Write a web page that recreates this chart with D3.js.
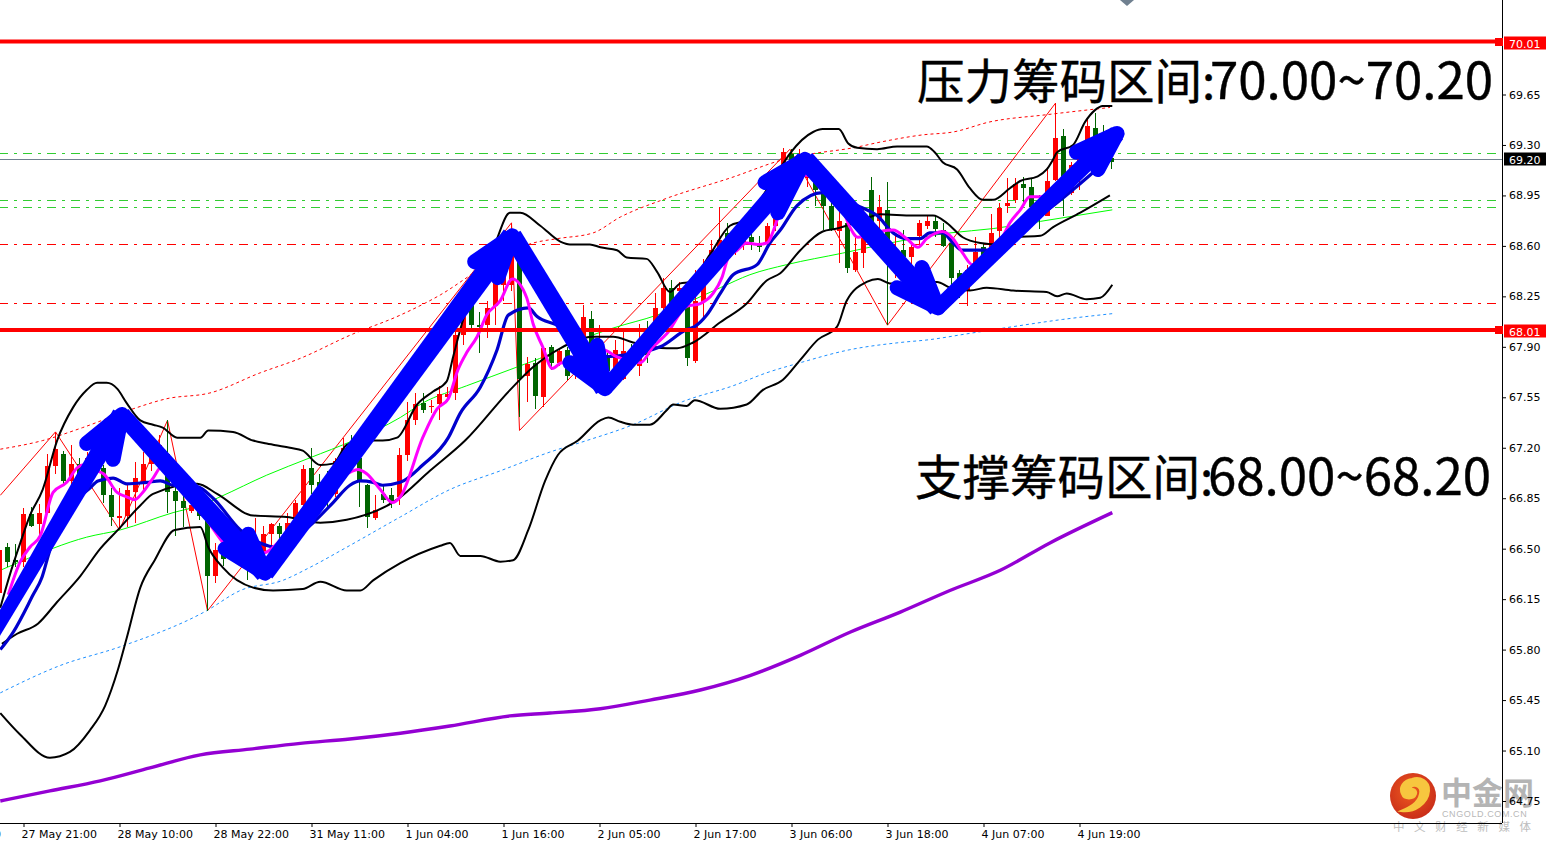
<!DOCTYPE html>
<html><head><meta charset="utf-8">
<script src="https://cdn.jsdelivr.net/npm/d3@7/dist/d3.min.js"></script>
<style>html,body{margin:0;padding:0;background:#fff;overflow:hidden}svg{display:block}</style>
</head><body><svg id="c" width="1547" height="845"></svg>
<script>
const opens=[66.19,66.51,66.42,66.41,66.74,66.67,66.75,67.07,67.16,66.97,67.09,67.04,67.11,67.06,66.87,66.71,66.73,66.89,66.96,67.09,
67.16,67.16,66.90,66.83,66.76,66.79,66.70,66.31,66.50,66.47,66.56,66.56,66.43,66.47,66.60,66.66,66.61,66.70,66.80,67.06,
66.96,66.97,66.88,67.11,67.22,67.13,66.94,66.71,66.88,66.87,66.86,67.15,67.39,67.51,67.48,67.50,67.55,67.58,67.98,68.24,
68.05,68.05,68.18,68.33,68.33,68.52,67.70,67.79,67.55,67.90,67.79,67.88,67.77,67.79,68.09,67.81,67.84,67.75,67.68,67.88,
67.77,67.98,67.95,68.17,68.31,68.29,68.32,67.80,68.21,68.45,68.57,68.69,68.61,68.62,68.66,68.62,68.61,68.74,69.14,69.24,
69.13,69.07,69.10,69.02,68.88,68.70,68.76,68.43,68.55,68.99,68.77,68.85,68.48,68.57,68.52,68.67,68.74,68.77,68.71,68.62,
68.41,68.29,68.47,68.59,68.59,68.70,68.88,68.92,69.03,69.01,68.88,68.81,69.06,69.36,68.97,69.08,69.24,69.42,69.37,69.21];
const closes=[66.49,66.41,66.41,66.74,66.66,66.75,67.07,67.19,66.97,67.09,67.02,67.13,67.06,66.87,66.72,66.73,66.91,66.99,67.09,67.16,
67.22,66.89,66.83,66.78,66.80,66.73,66.31,66.49,66.43,66.57,66.47,66.45,66.56,66.60,66.67,66.60,66.68,66.82,67.05,66.94,
66.93,66.91,67.11,67.20,67.15,66.96,66.72,66.77,66.84,66.82,67.15,67.39,67.50,67.46,67.49,67.57,67.57,67.98,68.15,68.05,
68.04,68.17,68.34,68.47,68.55,67.68,67.78,67.56,67.89,67.79,67.87,67.70,67.91,68.11,67.89,67.95,67.73,67.88,67.87,67.79,
67.95,67.84,68.17,68.31,68.19,68.31,67.82,68.22,68.45,68.57,68.64,68.57,68.65,68.65,68.63,68.59,68.74,68.90,69.25,69.16,
69.23,69.14,68.99,68.88,68.71,68.77,68.45,68.56,68.72,68.72,68.87,68.48,68.58,68.52,68.59,68.76,68.77,68.72,68.60,68.38,
68.31,68.43,68.56,68.50,68.69,68.86,68.90,69.03,69.00,68.87,68.79,69.05,69.35,69.06,69.16,69.22,69.43,69.27,69.16,69.18];
const highs=[66.52,66.54,66.53,66.78,66.79,66.81,67.16,67.31,67.18,67.22,67.13,67.17,67.15,67.08,66.92,66.92,66.95,67.10,67.17,67.24,
67.29,67.39,66.95,66.89,66.86,66.92,66.77,66.54,66.56,66.63,66.61,66.63,66.71,66.66,66.68,66.68,66.75,66.84,67.08,67.20,
67.02,67.04,67.13,67.27,67.29,67.15,66.95,66.87,66.95,66.92,67.20,67.52,67.58,67.58,67.53,67.63,67.62,68.02,68.26,68.33,
68.14,68.22,68.43,68.54,68.76,68.57,67.83,67.82,67.90,67.91,67.89,67.90,67.95,68.19,68.15,68.05,67.86,67.95,68.00,67.92,
68.06,68.08,68.27,68.38,68.36,68.35,68.33,68.43,68.51,68.64,68.87,68.76,68.67,68.71,68.71,68.67,68.76,68.95,69.28,69.27,
69.27,69.16,69.16,69.09,68.94,68.87,68.78,68.66,68.85,69.08,68.95,69.04,68.67,68.71,68.62,68.78,68.81,68.81,68.76,68.67,
68.43,68.47,68.66,68.62,68.82,68.90,69.07,69.07,69.08,69.07,68.95,69.15,69.59,69.41,69.18,69.26,69.49,69.52,69.44,69.24];
const lows=[66.14,66.37,66.37,66.37,66.65,66.59,66.74,67.02,66.95,66.91,66.99,66.98,67.01,66.82,66.66,66.65,66.65,66.68,66.89,67.04,
67.10,66.75,66.59,66.65,66.75,66.70,66.07,66.26,66.38,66.42,66.43,66.28,66.38,66.45,66.52,66.56,66.57,66.66,66.79,66.88,
66.82,66.79,66.86,67.04,67.04,66.79,66.64,66.70,66.82,66.78,66.80,67.11,67.36,67.44,67.44,67.39,67.52,67.53,67.91,68.00,
67.86,67.96,68.05,68.22,68.29,67.41,67.52,67.47,67.48,67.74,67.77,67.67,67.68,67.74,67.84,67.74,67.70,67.68,67.67,67.74,
67.70,67.79,67.88,68.15,68.13,68.20,67.77,67.79,68.09,68.40,68.49,68.50,68.54,68.57,68.57,68.56,68.59,68.70,69.05,69.07,
69.02,69.01,68.88,68.71,68.70,68.48,68.41,68.42,68.45,68.71,68.70,68.05,68.38,68.33,68.47,68.59,68.72,68.66,68.59,68.31,
68.24,68.18,68.45,68.47,68.57,68.65,68.83,68.90,68.90,68.81,68.72,68.81,69.05,68.81,68.95,68.99,69.20,69.24,69.11,69.13];

const bandUpper=[[0.1,66.09],[1.3,66.32],[2.6,66.54],[3.8,66.73],[5.4,66.91],[7.2,67.25],[9.2,67.48],[10.9,67.60],[12.2,67.65],[13.4,67.65],[14.7,67.61],[15.9,67.51],[17.6,67.39],[19.2,67.36],[20.4,67.34],[22.2,67.27],[25.1,67.27],[26.1,67.32],[29.2,67.31],[31.7,67.25],[33.4,67.23],[36.3,67.20],[37.9,67.18],[40.1,67.08],[41.7,67.09],[43.4,67.22],[45.4,67.25],[47.9,67.25],[49.7,67.27],[52.2,67.50],[54.2,67.59],[55.9,67.66],[56.7,67.83],[57.8,68.06],[59.7,68.36],[61.9,68.61],[63.8,68.83],[65.1,68.83],[67.6,68.74],[70.1,68.63],[71.3,68.61],[73.8,68.61],[75.1,68.59],[77.2,68.57],[78.4,68.52],[80.9,68.51],[82.2,68.42],[83.8,68.28],[85.1,68.34],[86.3,68.35],[88.8,68.54],[91.3,68.74],[93.4,68.78],[95.1,68.92],[97.6,69.14],[98.8,69.24],[101.7,69.39],[102.9,69.41],[104.9,69.41],[106.1,69.31],[107.2,69.28],[109.7,69.27],[112.2,69.29],[115.9,69.29],[116.9,69.25],[117.9,69.18],[119.7,69.13],[121.3,69.00],[122.9,68.92],[124.2,68.92],[126.3,69.00],[127.6,69.05],[129.7,69.08],[130.9,69.13],[131.7,69.20],[132.2,69.25],[134.2,69.30],[135.7,69.46],[136.9,69.54],[137.9,69.57],[139.1,69.57]];
const bandMid=[[0.3,65.84],[2.2,65.91],[4.8,65.98],[7.2,66.13],[10.1,66.31],[12.6,66.50],[14.8,66.63],[17.6,66.80],[19.2,66.88],[24.7,66.95],[27.2,66.88],[31.7,66.73],[35.9,66.72],[40.1,66.68],[43.4,66.70],[49.7,66.84],[53.8,67.04],[58.2,67.25],[63.8,67.60],[66.7,67.76],[70.1,67.89],[74.2,67.97],[76.7,67.97],[79.2,67.93],[83.4,67.89],[84.7,67.89],[86.7,67.93],[90.1,68.07],[93.4,68.20],[95.9,68.36],[97.6,68.41],[100.1,68.57],[102.9,68.70],[104.7,68.72],[107.9,68.78],[110.1,68.82],[114.2,68.81],[116.7,68.81],[118.4,68.76],[120.4,68.66],[122.6,68.62],[124.7,68.61],[126.7,68.66],[130.1,68.67],[131.7,68.73],[135.1,68.83],[138.8,68.95]];
const bandLower=[[0.1,65.36],[2.6,65.21],[6.3,65.05],[8.8,65.09],[11.3,65.24],[13.2,65.41],[14.8,65.66],[15.9,65.88],[17.6,66.23],[19.4,66.42],[21.9,66.63],[25.1,66.65],[26.1,66.51],[27.9,66.37],[31.7,66.23],[34.2,66.21],[37.9,66.22],[40.1,66.27],[43.4,66.21],[45.1,66.21],[46.7,66.28],[50.1,66.40],[55.1,66.52],[56.3,66.54],[57.6,66.45],[60.1,66.45],[62.6,66.41],[64.2,66.42],[66.1,66.63],[68.2,66.97],[69.8,67.15],[72.3,67.25],[75.1,67.39],[76.1,67.41],[77.6,67.38],[79.2,67.36],[81.3,67.36],[83.4,67.46],[84.2,67.50],[85.9,67.49],[86.9,67.53],[90.1,67.47],[93.4,67.50],[95.4,67.60],[97.9,67.67],[100.1,67.81],[102.3,67.95],[104.7,68.04],[105.9,68.22],[108.4,68.35],[109.8,68.37],[111.3,68.34],[117.2,68.35],[118.8,68.31],[121.3,68.29],[123.4,68.31],[126.7,68.29],[130.9,68.28],[132.2,68.25],[133.4,68.27],[135.9,68.23],[137.6,68.24],[139.1,68.33]];
const maFast=[[1.1,66.18],[2.6,66.41],[3.8,66.51],[5.1,66.59],[6.7,66.89],[8.4,66.96],[9.7,67.06],[10.4,67.08],[12.2,67.04],[13,67.02],[14.7,66.89],[15.9,66.86],[16.9,66.84],[17.9,66.89],[19.2,66.99],[20.3,67.07],[22.6,66.97],[25.9,66.70],[29.2,66.49],[32.9,66.47],[35.1,66.56],[36.7,66.68],[37.6,66.75],[41.7,66.97],[43.8,67.03],[44.8,67.05],[45.9,67.02],[47.6,66.91],[49.1,66.82],[50.1,66.86],[52.9,67.27],[54.7,67.47],[56.1,67.54],[57.3,67.74],[58.4,67.86],[59.7,67.97],[60.9,68.12],[62.6,68.22],[64.1,68.37],[65.9,68.24],[66.7,68.06],[67.9,67.90],[69.1,67.75],[70.3,67.79],[72.2,67.74],[75.4,67.88],[77.2,67.83],[80.1,67.79],[81.7,67.90],[83.4,67.99],[85.9,68.18],[87.6,68.20],[89.2,68.27],[90.3,68.38],[91.1,68.52],[92.2,68.57],[93.4,68.62],[94.8,68.61],[95.9,68.62],[97.2,68.78],[98.8,69.09],[101.3,69.09],[103.2,68.99],[105.3,68.87],[106.3,68.73],[107.3,68.66],[108.2,68.67],[110.1,68.70],[111.7,68.71],[113.4,68.65],[114.8,68.59],[115.9,68.65],[117.9,68.70],[119.2,68.65],[120.4,68.55],[121.6,68.47],[122.6,68.50],[125.1,68.63],[126.3,68.76],[127.6,68.85],[128.8,68.94],[130.4,68.94],[132.2,69.02],[134.4,69.13],[136.3,69.26],[139.1,69.33]];
const maBlue=[[0.1,65.80],[1.7,65.92],[4.2,66.18],[5.3,66.30],[6.3,66.49],[8.2,66.70],[10.1,66.86],[11.3,66.92],[12.3,66.97],[14.2,66.99],[15.9,66.95],[18.4,66.96],[20.1,66.97],[21.7,66.94],[24.7,66.93],[26.7,66.85],[30.1,66.63],[32.6,66.54],[34.7,66.51],[39.2,66.68],[41.7,66.82],[43.8,66.94],[45.1,66.97],[46.7,66.96],[47.9,66.94],[50.1,66.96],[52.9,67.08],[56.1,67.27],[57.6,67.44],[60.1,67.62],[62.2,67.88],[63.6,68.12],[66.1,68.17],[67.2,68.11],[69.7,68.05],[72.6,67.95],[75.4,67.83],[77.6,67.84],[82.6,67.90],[85.9,68.02],[86.9,68.04],[88.4,68.12],[90.1,68.27],[91.7,68.40],[94.7,68.47],[96.3,68.62],[97.6,68.71],[99.7,68.88],[102.9,68.97],[107.6,68.87],[109.7,68.81],[111.7,68.69],[113.4,68.65],[115.1,68.65],[116.3,68.69],[117.9,68.69],[119.2,68.62],[120.3,68.57],[123.8,68.57],[130.1,68.81],[136.3,69.09],[139.1,69.23]];
const maGreen=[[0.1,66.35],[2.6,66.41],[10.9,66.58],[15.1,66.63],[21.7,66.75],[25.1,66.80],[27.6,66.86],[33.4,67.01],[38.8,67.13],[44.2,67.25],[50.1,67.41],[52.9,67.51],[58.4,67.63],[64.7,67.76],[68.4,67.84],[71.3,67.92],[76.7,68.03],[82.2,68.12],[90.1,68.31],[93.8,68.40],[98.4,68.47],[105.4,68.55],[111.3,68.62],[118.8,68.69],[124.2,68.72],[130.1,68.77],[139.1,68.85]];
const maRedDot=[[0.1,67.19],[5.4,67.25],[10.4,67.34],[16.7,67.47],[20.9,67.54],[26.3,67.58],[32.6,67.72],[37.6,67.82],[43.8,67.98],[50.1,68.12],[55.1,68.26],[60.4,68.45],[66.7,68.62],[69.7,68.65],[74.2,68.69],[77.6,68.80],[82.9,68.92],[91.3,69.07],[98.8,69.21],[101.7,69.24],[106.7,69.28],[110.1,69.32],[115.4,69.37],[119.2,69.39],[123.8,69.46],[130.9,69.51],[138.8,69.56]];
const maBlueDot=[[0.1,65.50],[7.6,65.69],[15.1,65.82],[25.9,66.07],[30.1,66.21],[35.4,66.28],[38.8,66.37],[43.4,66.51],[50.1,66.72],[56.3,66.91],[62.6,67.04],[68.8,67.17],[73.4,67.25],[79.2,67.36],[85.4,67.52],[91.7,67.63],[95.9,67.72],[100.1,67.79],[106.3,67.88],[112.6,67.93],[116.3,67.95],[120.9,67.99],[126.7,68.04],[132.9,68.09],[139.1,68.13]];
const maPurple=[[0.1,64.75],[6.3,64.82],[12.6,64.89],[18.8,64.98],[25.1,65.07],[31.3,65.11],[37.6,65.15],[43.8,65.18],[50.1,65.22],[56.3,65.27],[63.8,65.34],[68.8,65.36],[75.1,65.39],[81.3,65.45],[87.6,65.52],[93.8,65.62],[100.1,65.76],[106.3,65.92],[112.6,66.06],[118.8,66.21],[125.1,66.35],[131.3,66.54],[139.1,66.75]];
const zigzag=[[0.1,66.87],[7,67.31],[15,66.63],[21,67.39],[26,66.07],[64,68.76],[65,67.32],[98.8,69.27],[111,68.05],[132,69.59]];

const arrowStarts=[[-2.4,65.75],[15.3,67.43],[33.2,66.33],[64.1,68.67],[75.7,67.61],[100.7,69.20],[117.3,68.17]];
const arrowTips=[[15.3,67.43],[33.2,66.33],[64.1,68.67],[75.7,67.61],[100.7,69.20],[117.3,68.17],[139.7,69.38]];
const arrowArmsA=[[10.9,67.23],[28.2,66.50],[59.4,68.49],[71.3,67.79],[95.7,69.04],[112.2,68.31],[134.6,69.25]];
const arrowArmsB=[[14.2,67.12],[31.1,66.60],[62.3,68.38],[74.7,67.91],[97.3,68.83],[115.3,68.45],[137.3,69.13]];

const heavyLevels=[70.01,68.01];
const dashLevels=[[69.245,"#32cd32"],[68.92,"#32cd32"],[68.87,"#32cd32"],[68.61,"#ff0000"],[68.205,"#ff0000"]];
const bidLevel=69.20;
const priceTicks=[69.65,69.30,68.95,68.60,68.25,67.90,67.55,67.20,66.85,66.50,66.15,65.80,65.45,65.10,64.75];
const timeBars=[-9,3,15,27,39,51,63,75,87,99,111,123,135];
const timeLabels=["27 May 09:00","27 May 21:00","28 May 10:00","28 May 22:00","31 May 11:00","1 Jun 04:00","1 Jun 16:00","2 Jun 05:00","2 Jun 17:00","3 Jun 06:00","3 Jun 18:00","4 Jun 07:00","4 Jun 19:00"];
const noteLabels=["压力筹码区间:","支撑筹码区间:"];
const noteRanges=["70.00~70.20","68.00~68.20"];
const notePrices=[69.62,66.87];

const RIGHT=1502,BOTTOM=823,RED="#ff0000",GREEN="#006400";
const x=d3.scaleLinear().domain([0,139]).range([-0.5,1111.5]);
const y=d3.scaleLinear().domain([64.75,69.65]).range([801,94.5]);
const svg=d3.select("#c");
const plot=svg.append("g");
const straight=d3.line().x(d=>x(d[0])).y(d=>y(d[1]));
const smooth=d3.line().x(d=>x(d[0])).y(d=>y(d[1])).curve(d3.curveMonotoneX);

plot.selectAll("line.dash").data(dashLevels).join("line").attr("x1",0).attr("x2",RIGHT)
 .attr("y1",d=>Math.round(y(d[0]))+.5).attr("y2",d=>Math.round(y(d[0]))+.5)
 .attr("stroke",d=>d[1]).attr("stroke-width",1).attr("stroke-dasharray","9 6 3 6").attr("stroke-dashoffset",1);
plot.append("line").attr("x1",0).attr("x2",RIGHT).attr("y1",Math.round(y(bidLevel))+.5).attr("y2",Math.round(y(bidLevel))+.5).attr("stroke","#708090");

const draw=(gen,d,c,w,dash)=>plot.append("path").attr("d",gen(d)).attr("fill","none").attr("stroke",c).attr("stroke-width",w).attr("stroke-dasharray",dash||null).attr("stroke-linejoin","round");
draw(smooth,maRedDot,RED,1,"3 3");
draw(smooth,maBlueDot,"#1e90ff",1,"3 3");
draw(straight,zigzag,RED,1);
draw(smooth,maGreen,"#00ff00",1);
draw(smooth,maPurple,"#9400d3",3.4);

const candles=d3.range(opens.length);
plot.selectAll("rect.w").data(candles).join("rect").attr("x",i=>x(i)-.5).attr("width",1)
 .attr("y",i=>y(highs[i])).attr("height",i=>Math.max(1,y(lows[i])-y(highs[i])))
 .attr("fill",i=>closes[i]>=opens[i]?RED:GREEN).attr("shape-rendering","crispEdges");
plot.selectAll("rect.b").data(candles).join("rect").attr("x",i=>x(i)-2.5).attr("width",5)
 .attr("y",i=>y(Math.max(opens[i],closes[i]))).attr("height",i=>Math.max(1.5,Math.abs(y(opens[i])-y(closes[i]))))
 .attr("fill",i=>closes[i]>=opens[i]?RED:GREEN).attr("shape-rendering","crispEdges");

draw(smooth,bandUpper,"#000",2);draw(smooth,bandMid,"#000",2);draw(smooth,bandLower,"#000",2);
draw(smooth,maBlue,"#0000cd",3.2);
draw(smooth,maFast,"#ff00ff",3);

plot.selectAll("line.h").data(heavyLevels).join("line").attr("x1",0).attr("x2",RIGHT)
 .attr("y1",d=>y(d)-1).attr("y2",d=>y(d)-1).attr("stroke",RED).attr("stroke-width",4);

// arrows: tapered shaft plus two-armed head, positioned through the scales
const shaftWidths=[[12,20],[17,20],[18,21],[19,21],[15,19],[19,20],[15,17]];
arrowTips.forEach((t,i)=>{
 const ax=x(arrowStarts[i][0]),ay=y(arrowStarts[i][1]),bx=x(t[0]),by=y(t[1]);
 const len=Math.hypot(bx-ax,by-ay),nx=-(by-ay)/len,ny=(bx-ax)/len;
 const [w0,w1]=shaftWidths[i];
 plot.append("path").attr("fill","#0000ff").attr("d",
  `M${ax+nx*w0/2} ${ay+ny*w0/2}L${bx+nx*w1/2} ${by+ny*w1/2}L${bx-nx*w1/2} ${by-ny*w1/2}L${ax-nx*w0/2} ${ay-ny*w0/2}Z`);
 plot.append("path").attr("d",straight([arrowArmsA[i],t,arrowArmsB[i]])).attr("stroke","#0000ff").attr("stroke-width",15).attr("fill","none").attr("stroke-linecap","round").attr("stroke-linejoin","round");
});

const notes=svg.selectAll("text.note").data(noteLabels).join("text").attr("x",(d,i)=>i?915:917).attr("y",(d,i)=>y(notePrices[i]))
 .attr("font-family","'Noto Sans CJK SC'").attr("font-size",47.5).attr("fill","#000").attr("stroke","#000").attr("stroke-width",0.4);
notes.append("tspan").text(d=>d);
notes.append("tspan").attr("x",(d,i)=>i?1208:1210).attr("font-size",51).text((d,i)=>noteRanges[i]);

const wm=svg.append("g");
const grad=svg.append("defs").append("radialGradient").attr("id","lg").attr("cx","45%").attr("cy","40%").attr("r","65%");
grad.append("stop").attr("offset","0%").attr("stop-color","#ee5a20");
grad.append("stop").attr("offset","100%").attr("stop-color","#c72a18");
wm.append("circle").attr("cx",1413).attr("cy",796).attr("r",23).attr("fill","url(#lg)");
wm.append("path").attr("d","M1401 811 C1414 813 1428 804 1429 791 C1430 781 1420 776 1412 779 C1403 780 1399 788 1402 794 C1404 800 1414 800 1416 794 C1417 790 1412 787 1409 790 C1412 782 1422 786 1420 794 C1418 804 1408 808 1401 811 Z").attr("fill","#f7c63f").attr("stroke","#f7c63f").attr("stroke-width",2);
wm.append("text").attr("x",1441).attr("y",804).attr("font-family","'Noto Sans CJK SC'").attr("font-weight",700).attr("font-size",31).attr("fill","#b4b4b4").text("中金网");
wm.append("text").attr("x",1442).attr("y",817).attr("font-family","'Liberation Sans'").attr("font-size",9).attr("letter-spacing",0.6).attr("fill","#b8b8b8").text("CNGOLD.COM.CN");
wm.append("text").attr("x",1393).attr("y",831).attr("font-family","'Noto Sans CJK SC'").attr("font-size",11.5).attr("fill","#bdbdbd").attr("textLength",138).text("中文财经新媒体");

const yAxis=d3.axisRight(y).tickValues(priceTicks).tickSize(4).tickPadding(3).tickFormat(d3.format(".2f"));
const gy=svg.append("g").attr("transform",`translate(${RIGHT},0)`).call(yAxis);
const xAxis=d3.axisBottom(x).tickValues(timeBars).tickSize(4).tickPadding(3.5).tickFormat(d=>timeLabels[timeBars.indexOf(d)]);
const gx=svg.append("g").attr("transform",`translate(0,${BOTTOM})`).call(xAxis);
gx.selectAll("text").attr("text-anchor","start").attr("dx",-2.5);
[gy,gx].forEach(g=>{g.select(".domain").remove();g.selectAll("text").attr("font-family","'DejaVu Sans'").attr("font-size",11).attr("fill","#000");});
svg.append("line").attr("x1",RIGHT+.5).attr("x2",RIGHT+.5).attr("y1",0).attr("y2",BOTTOM).attr("stroke","#000");
svg.append("line").attr("x1",0).attr("x2",RIGHT).attr("y1",BOTTOM+.5).attr("y2",BOTTOM+.5).attr("stroke","#000");

const flags=[[heavyLevels[0],RED],[bidLevel,"#000"],[heavyLevels[1],RED]];
flags.forEach(([v,c])=>{
 const yy=Math.round(y(v));
 svg.append("rect").attr("x",RIGHT+2).attr("y",yy-6.5).attr("width",42).attr("height",13).attr("fill",c);
 svg.append("text").attr("x",RIGHT+7).attr("y",yy+4.5).attr("font-family","'DejaVu Sans'").attr("font-size",11).attr("fill","#fff").text(v.toFixed(2));
 if(c===RED) svg.append("rect").attr("x",RIGHT-7).attr("y",yy-5).attr("width",8).attr("height",8).attr("fill",RED);
});
svg.append("path").attr("d","M1120 0 L1134 0 L1127 6 Z").attr("fill","#708090");
</script></body></html>
